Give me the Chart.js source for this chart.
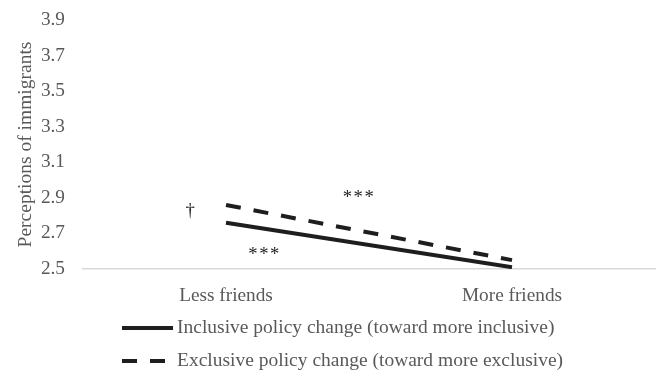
<!DOCTYPE html>
<html>
<head>
<meta charset="utf-8">
<script src="https://cdn.jsdelivr.net/npm/chart.js@4/dist/chart.umd.min.js"></script>
<style>
  html, body { margin: 0; padding: 0; background: #fff; }
  #wrap { width: 662px; height: 377px; position: relative; }
</style>
</head>
<body>
<div id="wrap"><canvas id="c" width="662" height="377"></canvas></div>
<script>
// Categories and mean perceptions per group
const categories = ['Less friends', 'More friends'];
const inclusiveValues = [2.76, 2.51];
const exclusiveValues = [2.86, 2.55];
const seriesNames = [
  'Inclusive policy change (toward more inclusive)',
  'Exclusive policy change (toward more exclusive)'
];
const yTicks = [2.5, 2.7, 2.9, 3.1, 3.3, 3.5, 3.7, 3.9];

// Significance markers: [text, category position, y value]
const markerTexts = ['\u2020', '***', '***'];
const markerX = [-0.123, 0.465, 0.135];
const markerY = [2.823, 2.898, 2.58];

const FONT = '"Liberation Serif", "Times New Roman", serif';
const FS = 19.3;
const GRAY = '#595959';
const INK = '#1e1e1e';

const markersPlugin = {
  id: 'markers',
  afterDatasetsDraw(chart) {
    const { ctx, scales: { x, y } } = chart;
    ctx.save();
    ctx.fillStyle = INK;
    ctx.font = '18.67px ' + FONT;
    ctx.textAlign = 'center';
    ctx.textBaseline = 'middle';
    if ('letterSpacing' in ctx) ctx.letterSpacing = '1.5px';
    markerTexts.forEach((t, i) => {
      ctx.fillText(t, x.getPixelForValue(markerX[i]), y.getPixelForValue(markerY[i]));
    });
    ctx.restore();
  }
};

// Two-row legend, left aligned, drawn beneath the axis labels
const legendPlugin = {
  id: 'stackedLegend',
  afterDraw(chart) {
    const { ctx } = chart;
    const left = 122, sampleW = 51, rowY = [328, 361];
    ctx.save();
    chart.data.datasets.forEach((ds, i) => {
      const yy = rowY[i];
      ctx.strokeStyle = ds.borderColor;
      ctx.lineWidth = ds.borderWidth;
      ctx.setLineDash(ds.borderDash || []);
      ctx.beginPath();
      ctx.moveTo(left, yy);
      ctx.lineTo(left + sampleW, yy);
      ctx.stroke();
      ctx.setLineDash([]);
      ctx.fillStyle = GRAY;
      ctx.font = '19.5px ' + FONT;
      ctx.textAlign = 'left';
      ctx.textBaseline = 'middle';
      ctx.fillText(ds.label, left + sampleW + 4, yy);
    });
    ctx.restore();
  }
};

new Chart(document.getElementById('c'), {
  type: 'line',
  data: {
    labels: categories,
    datasets: [
      {
        label: seriesNames[0],
        data: inclusiveValues,
        borderColor: INK,
        borderWidth: 4,
        pointRadius: 0,
        fill: false,
        tension: 0
      },
      {
        label: seriesNames[1],
        data: exclusiveValues,
        borderColor: INK,
        borderWidth: 4,
        borderDash: [15, 13],
        pointRadius: 0,
        fill: false,
        tension: 0
      }
    ]
  },
  options: {
    responsive: false,
    animation: false,
    devicePixelRatio: 1,
    layout: { padding: { left: 0, right: 7, top: 20, bottom: 0 } },
    plugins: {
      legend: { display: false },
      tooltip: { enabled: false }
    },
    scales: {
      x: {
        offset: true,
        grid: { display: false, drawTicks: false },
        border: { display: true, color: '#d9d9d9', width: 1.5 },
        ticks: {
          color: GRAY,
          font: { family: FONT, size: FS },
          padding: 15,
          maxRotation: 0
        },
        afterFit(scale) { scale.height = 108; }
      },
      y: {
        min: 2.5,
        max: 3.9,
        afterBuildTicks(scale) { scale.ticks = yTicks.map(v => ({ value: v })); },
        grid: { display: false, drawTicks: false },
        border: { display: false },
        ticks: {
          color: GRAY,
          font: { family: FONT, size: FS },
          padding: 18,
          callback: v => v.toFixed(1)
        },
        title: {
          display: true,
          text: 'Perceptions of immigrants',
          color: GRAY,
          font: { family: FONT, size: 19.5 },
          padding: { top: 14, bottom: 0 }
        },
        afterFit(scale) {
          scale.width = 83;
          scale.paddingTop = 0;
          scale.paddingBottom = 0;
        }
      }
    }
  },
  plugins: [markersPlugin, legendPlugin]
});
</script>
</body>
</html>
